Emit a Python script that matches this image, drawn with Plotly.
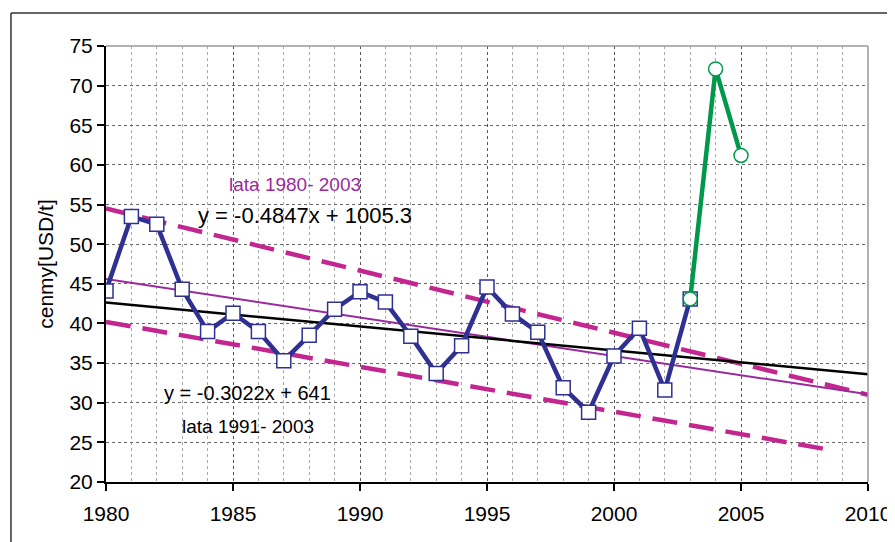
import plotly.graph_objects as go

years = list(range(1980, 2004))
prices = [44.1, 53.5, 52.5, 44.3, 39.0, 41.3, 39.0, 35.3, 38.5, 41.8, 44.0, 42.7,
          38.4, 33.7, 37.2, 44.6, 41.2, 38.9, 31.9, 28.8, 35.9, 39.4, 31.6, 43.1]
years_new = [2003, 2004, 2005]
prices_new = [43.1, 72.1, 61.2]

trend_x = [1980, 2010]
trend_a = (-0.3022, 641.0)     # black
trend_b = (-0.4847, 1005.3)    # purple
upper_x = [1980, 2010]
upper_y = [54.5, 31.0]
lower_x = [1980, 2008.6]
lower_y = [40.2, 24.0]

x_ticks = [1980, 1985, 1990, 1995, 2000, 2005, 2010]
y_ticks = [20, 25, 30, 35, 40, 45, 50, 55, 60, 65, 70, 75]

FONT = "Liberation Sans, Arial, sans-serif"

fig = go.Figure()
fig.add_trace(go.Scatter(x=upper_x, y=upper_y, mode="lines",
                         line=dict(color="#C4268F", width=4.5, dash="25px,12px")))
fig.add_trace(go.Scatter(x=lower_x, y=lower_y, mode="lines",
                         line=dict(color="#C4268F", width=4.5, dash="25px,12px")))
fig.add_trace(go.Scatter(x=trend_x, y=[trend_b[0] * x + trend_b[1] for x in trend_x], mode="lines",
                         line=dict(color="#9A2A9C", width=2)))
fig.add_trace(go.Scatter(x=trend_x, y=[trend_a[0] * x + trend_a[1] for x in trend_x], mode="lines",
                         line=dict(color="black", width=2.5)))
fig.add_trace(go.Scatter(x=years, y=prices, mode="lines+markers",
                         line=dict(color="#2E3192", width=4.5),
                         marker=dict(symbol="square", size=14, color="white",
                                     line=dict(color="#2E3192", width=1.5))))
fig.add_trace(go.Scatter(x=years_new, y=prices_new, mode="lines+markers",
                         line=dict(color="#00994C", width=4.5),
                         marker=dict(symbol="circle", size=14, color="white",
                                     line=dict(color="#00994C", width=1.5))))

annots = [
    dict(x=1987.44, y=57.47, text="lata 1980- 2003", color="#9A2A9C", size=19),
    dict(x=1987.83, y=53.68, text="y = -0.4847x + 1005.3", color="black", size=22),
    dict(x=1985.59, y=31.23, text="y = -0.3022x + 641", color="black", size=20),
    dict(x=1985.59, y=27.06, text="lata 1991- 2003", color="black", size=19),
]
for a in annots:
    fig.add_annotation(x=a["x"], y=a["y"], text=a["text"], showarrow=False,
                       font=dict(family=FONT, size=a["size"], color=a["color"]))

# plot border top/right (grey) and outer frame (black)
fig.add_shape(type="line", xref="paper", yref="paper", x0=0, x1=1, y0=1, y1=1,
              line=dict(color="#999999", width=1.5))
fig.add_shape(type="line", xref="paper", yref="paper", x0=1, x1=1, y0=0, y1=1,
              line=dict(color="#999999", width=1.5))
fig.add_shape(type="line", xref="paper", yref="paper", x0=-0.1247, x1=1.1, y0=1.0757, y1=1.0757,
              line=dict(color="#333333", width=1.5))
fig.add_shape(type="line", xref="paper", yref="paper", x0=-0.1247, x1=-0.1247, y0=1.0757, y1=-0.3,
              line=dict(color="#333333", width=1.5))

fig.update_layout(
    width=895, height=542,
    margin=dict(l=98, r=35, t=38, b=68),
    paper_bgcolor="white", plot_bgcolor="white",
    showlegend=False,
    font=dict(family=FONT, size=21, color="black"),
    xaxis=dict(range=[1980, 2010], tickvals=x_ticks, ticktext=[str(v) for v in x_ticks],
               showline=True, linecolor="black", linewidth=2,
               ticks="outside", ticklen=7, tickwidth=1.5, tickcolor="black",
               ticklabelstandoff=5,
               showgrid=True, gridcolor="#555555", griddash="3px,3px", gridwidth=1,
               minor=dict(dtick=1, tick0=1980, showgrid=True, gridcolor="#AAAAAA",
                          griddash="dot", gridwidth=1),
               zeroline=False, tickfont=dict(size=21)),
    yaxis=dict(range=[20, 75], tickvals=y_ticks,
               showline=True, linecolor="black", linewidth=2,
               ticks="outside", ticklen=7, tickwidth=1.5, tickcolor="black",
               showgrid=True, gridcolor="#666666", griddash="dot", gridwidth=1,
               zeroline=False, tickfont=dict(size=21),
               title=dict(text="cenmy[USD/t]", font=dict(size=21), standoff=10)),
)

fig.write_html("out.html")
